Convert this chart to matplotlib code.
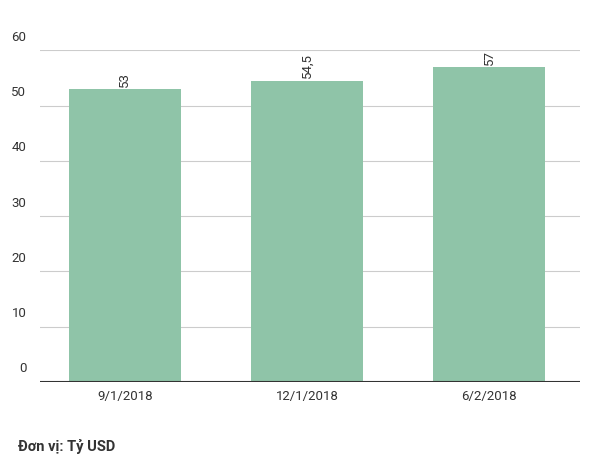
import matplotlib
matplotlib.use("Agg")
import matplotlib.pyplot as plt

plt.rcParams['font.family'] = ['Roboto', 'DejaVu Sans']

categories = ["9/1/2018", "12/1/2018", "6/2/2018"]
values = [53, 54.5, 57]
value_labels = ["53", "54,5", "57"]
yticks = [0, 10, 20, 30, 40, 50, 60]

fig = plt.figure(figsize=(6.05, 4.74), dpi=100)
ax = fig.add_axes([0.066, 0.194, 0.893, 0.7])
x = list(range(len(categories)))
ax.bar(x, values, width=0.615, color="#8fc4a8", zorder=2)
ax.set_xlim(-0.467, 2.5)
ax.set_ylim(0, 60)
for y in yticks:
    ax.axhline(y, color="#cccccc", lw=0.8, zorder=1)
    ax.text(-0.025, y + 1.2, str(y), transform=ax.get_yaxis_transform(),
            ha="right", va="bottom", fontsize=9.5, color="#333333")
ax.axhline(0, color="#333333", lw=1.5, zorder=3)
for xi, v, lab in zip(x, values, value_labels):
    ax.text(xi, v + 0.4, lab, rotation=90, ha="center", va="bottom",
            fontsize=9.5, color="#333333")
ax.set_yticks([])
ax.set_xticks(x)
ax.set_xticklabels(categories, fontsize=9.5, color="#333333")
ax.tick_params(axis="x", length=0, pad=6)
for s in ax.spines.values():
    s.set_visible(False)
fig.text(18 / 605, 1 - 446 / 474, "Đơn vị: Tỷ USD", fontsize=10.5,
         fontweight="bold", color="#333333", va="center")
fig.savefig("out.png", dpi=100, facecolor="white")
